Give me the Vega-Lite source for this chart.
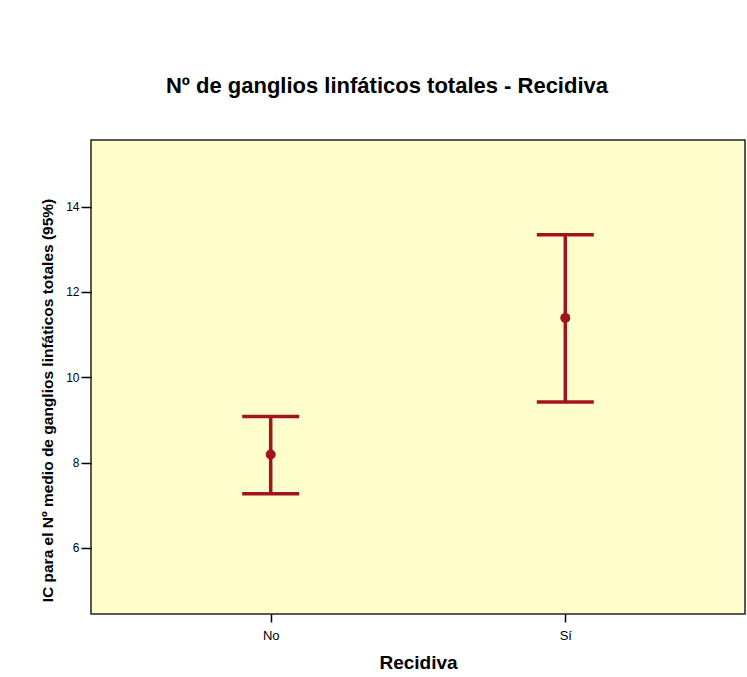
{
  "$schema": "https://vega.github.io/schema/vega-lite/v6.json",
  "width": 654,
  "height": 474,
  "autosize": {"type": "none"},
  "padding": {"left": 91, "top": 140, "right": 2, "bottom": 63},
  "background": "white",
  "title": {
    "text": "Nº de ganglios linfáticos totales - Recidiva",
    "font": "Liberation Sans",
    "fontSize": 22,
    "fontWeight": "bold",
    "color": "black",
    "anchor": "middle",
    "dx": -31,
    "offset": 42
  },
  "data": {
    "values": [
      {"Recidiva": "No", "mean": 8.19, "lo": 7.27, "hi": 9.08},
      {"Recidiva": "Sí", "mean": 11.39, "lo": 9.42, "hi": 13.34}
    ]
  },
  "encoding": {
    "x": {
      "field": "Recidiva",
      "type": "nominal",
      "sort": ["No", "Sí"],
      "scale": {"type": "point", "padding": 0.61},
      "axis": {
        "title": "Recidiva",
        "labelAngle": 0,
        "domain": false,
        "tickSize": 8,
        "tickColor": "black",
        "tickWidth": 1.5,
        "labelPadding": 7,
        "labelFontSize": 13,
        "labelFont": "Liberation Sans",
        "labelColor": "black",
        "titleFont": "Liberation Sans",
        "titleFontSize": 19,
        "titleFontWeight": "bold",
        "titleColor": "black",
        "titlePadding": 11
      }
    }
  },
  "layer": [
    {
      "mark": {"type": "rule", "color": "#A0141E", "strokeWidth": 3.5},
      "encoding": {
        "y": {
          "field": "lo",
          "type": "quantitative",
          "scale": {"domain": [4.45, 15.56], "nice": false, "zero": false},
          "axis": {
            "title": "IC para el Nº medio de ganglios linfáticos totales (95%)",
            "values": [6, 8, 10, 12, 14],
            "grid": false,
            "domain": false,
            "tickSize": 10,
            "tickColor": "black",
            "tickWidth": 1.5,
            "labelPadding": 2,
            "labelFontSize": 12,
            "labelFont": "Liberation Sans",
            "labelColor": "black",
            "titleFont": "Liberation Sans",
            "titleFontSize": 15.5,
            "titleFontWeight": "bold",
            "titleColor": "black",
            "titlePadding": 10,
            "titleY": 260
          }
        },
        "y2": {"field": "hi"}
      }
    },
    {
      "mark": {"type": "tick", "color": "#A0141E", "thickness": 3.5, "size": 57, "orient": "horizontal", "opacity": 1},
      "encoding": {"y": {"field": "lo", "type": "quantitative"}}
    },
    {
      "mark": {"type": "tick", "color": "#A0141E", "thickness": 3.5, "size": 57, "orient": "horizontal", "opacity": 1},
      "encoding": {"y": {"field": "hi", "type": "quantitative"}}
    },
    {
      "mark": {"type": "point", "filled": true, "color": "#A0141E", "size": 100, "opacity": 1},
      "encoding": {"y": {"field": "mean", "type": "quantitative"}}
    }
  ],
  "config": {
    "view": {"fill": "#FFFDCC", "stroke": "#222222", "strokeWidth": 1.5}
  }
}
